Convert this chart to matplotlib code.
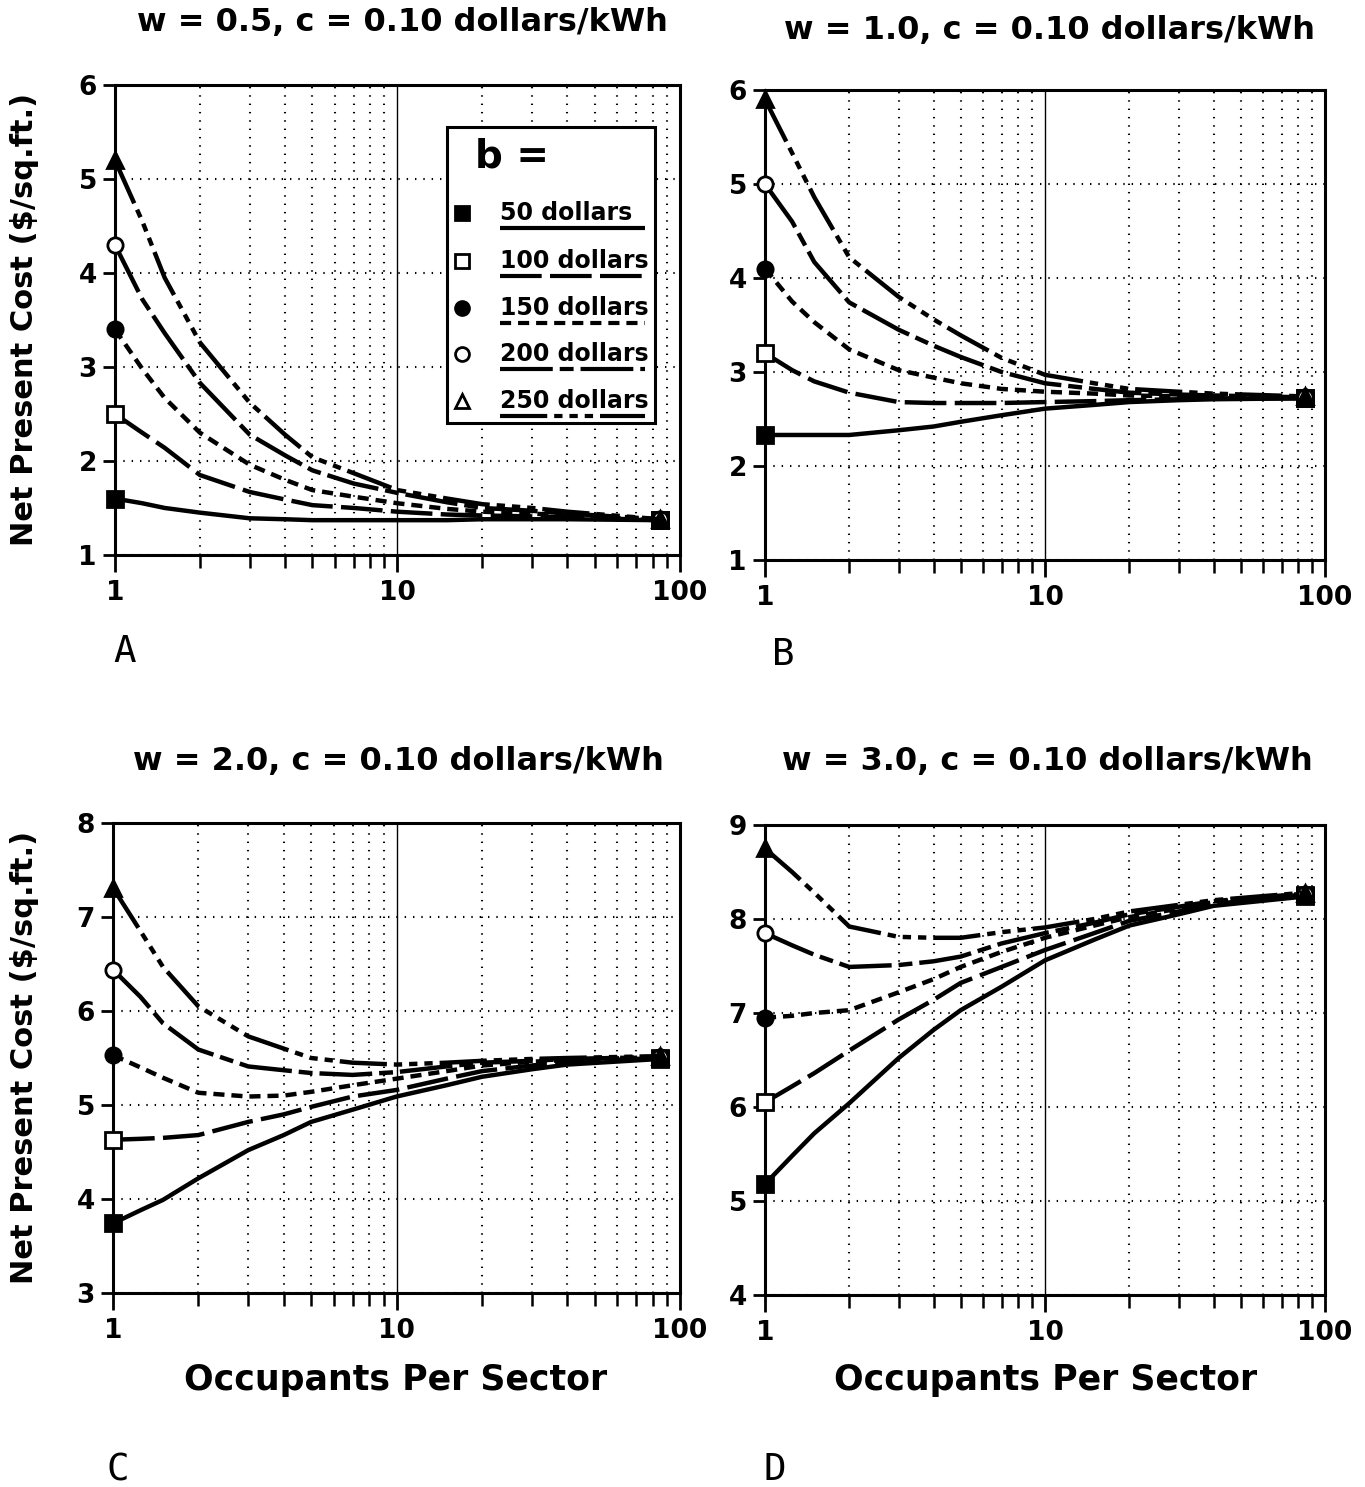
import matplotlib
matplotlib.use('Agg')
import matplotlib.pyplot as plt
from matplotlib.ticker import LogLocator, NullFormatter, FixedLocator, FixedFormatter
from matplotlib.lines import Line2D
from matplotlib.patches import Rectangle

plt.rcParams['lines.scale_dashes'] = False
plt.rcParams['font.family'] = ['DejaVu Sans']

# occupants per sector (x) where values were read
occupants = [1, 1.25, 1.5, 2, 3, 4, 5, 7, 10, 15, 20, 30, 40, 85]

b_labels = ['50 dollars', '100 dollars', '150 dollars', '200 dollars', '250 dollars']

# panel A: w = 0.5
cost_a_50 = [1.6, 1.55, 1.5, 1.45, 1.39, 1.38, 1.37, 1.37, 1.37, 1.37, 1.38, 1.38, 1.38, 1.37]
cost_a_100 = [2.5, 2.3, 2.14, 1.85, 1.67, 1.59, 1.53, 1.5, 1.46, 1.43, 1.42, 1.41, 1.4, 1.37]
cost_a_150 = [3.4, 2.98, 2.67, 2.3, 1.96, 1.8, 1.69, 1.62, 1.55, 1.49, 1.46, 1.44, 1.42, 1.37]
cost_a_200 = [4.3, 3.72, 3.36, 2.83, 2.28, 2.06, 1.9, 1.76, 1.66, 1.56, 1.5, 1.47, 1.44, 1.38]
cost_a_250 = [5.2, 4.55, 3.95, 3.26, 2.62, 2.28, 2.04, 1.87, 1.69, 1.6, 1.54, 1.5, 1.46, 1.38]

# panel B: w = 1.0
cost_b_50 = [2.33, 2.33, 2.33, 2.33, 2.38, 2.42, 2.47, 2.54, 2.61, 2.65, 2.68, 2.7, 2.71, 2.72]
cost_b_100 = [3.2, 3.02, 2.9, 2.78, 2.68, 2.67, 2.67, 2.67, 2.68, 2.69, 2.7, 2.71, 2.72, 2.72]
cost_b_150 = [4.1, 3.75, 3.53, 3.24, 3.02, 2.94, 2.88, 2.82, 2.79, 2.77, 2.75, 2.74, 2.74, 2.73]
cost_b_200 = [5.0, 4.6, 4.17, 3.74, 3.45, 3.28, 3.16, 3.0, 2.88, 2.82, 2.78, 2.76, 2.75, 2.73]
cost_b_250 = [5.9, 5.33, 4.86, 4.22, 3.8, 3.56, 3.39, 3.15, 2.97, 2.88, 2.82, 2.79, 2.77, 2.74]

# panel C: w = 2.0
cost_c_50 = [3.74, 3.88, 3.99, 4.22, 4.52, 4.68, 4.82, 4.95, 5.09, 5.21, 5.3, 5.38, 5.43, 5.49]
cost_c_100 = [4.63, 4.64, 4.65, 4.68, 4.82, 4.9, 4.98, 5.09, 5.16, 5.28, 5.36, 5.42, 5.46, 5.5]
cost_c_150 = [5.53, 5.4, 5.29, 5.13, 5.09, 5.1, 5.14, 5.21, 5.28, 5.36, 5.42, 5.46, 5.48, 5.51]
cost_c_200 = [6.44, 6.15, 5.87, 5.59, 5.41, 5.37, 5.34, 5.32, 5.35, 5.41, 5.45, 5.47, 5.49, 5.51]
cost_c_250 = [7.31, 6.85, 6.47, 6.05, 5.73, 5.6, 5.5, 5.45, 5.43, 5.45, 5.47, 5.49, 5.5, 5.52]

# panel D: w = 3.0
cost_d_50 = [5.18, 5.48, 5.72, 6.04, 6.52, 6.82, 7.03, 7.28, 7.56, 7.78, 7.93, 8.05, 8.14, 8.24]
cost_d_100 = [6.05, 6.22, 6.36, 6.6, 6.93, 7.14, 7.32, 7.49, 7.67, 7.85, 7.98, 8.08, 8.16, 8.25]
cost_d_150 = [6.95, 6.97, 7.0, 7.03, 7.22, 7.36, 7.49, 7.65, 7.8, 7.93, 8.02, 8.11, 8.18, 8.26]
cost_d_200 = [7.85, 7.72, 7.62, 7.49, 7.51, 7.55, 7.6, 7.74, 7.85, 7.96, 8.05, 8.13, 8.19, 8.27]
cost_d_250 = [8.75, 8.5, 8.28, 7.92, 7.81, 7.8, 7.8, 7.86, 7.91, 8.0, 8.08, 8.15, 8.2, 8.28]

panels = [
    ('w = 0.5, c = 0.10 dollars/kWh', [cost_a_50, cost_a_100, cost_a_150, cost_a_200, cost_a_250], (1, 6), 'A'),
    ('w = 1.0, c = 0.10 dollars/kWh', [cost_b_50, cost_b_100, cost_b_150, cost_b_200, cost_b_250], (1, 6), 'B'),
    ('w = 2.0, c = 0.10 dollars/kWh', [cost_c_50, cost_c_100, cost_c_150, cost_c_200, cost_c_250], (3, 8), 'C'),
    ('w = 3.0, c = 0.10 dollars/kWh', [cost_d_50, cost_d_100, cost_d_150, cost_d_200, cost_d_250], (4, 9), 'D'),
]

# line and marker styles for b = 50 .. 250
dash_styles = [
    (0, ()),
    (0, (30, 6)),
    (0, (8, 5)),
    (0, (38, 5, 10, 5)),
    (0, (34, 5, 6, 5, 6, 5, 6, 5)),
]
markers = ['s', 's', 'o', 'o', '^']
faces = ['black', 'white', 'black', 'white', 'black']
legend_faces = ['black', 'white', 'black', 'white', 'white']

fig = plt.figure(figsize=(13.65, 14.87), dpi=100)

axes_pos = [
    [0.0842, 0.6268, 0.4139, 0.3160],
    [0.5604, 0.6234, 0.4103, 0.3161],
    [0.0828, 0.1305, 0.4154, 0.3160],
    [0.5604, 0.1291, 0.4103, 0.3161],
]
title_pos = [(0.295, 0.9852), (0.769, 0.9798), (0.292, 0.4876), (0.767, 0.4876)]
letter_pos = [(0.0916, 0.5615), (0.5736, 0.5595), (0.0864, 0.0114), (0.5678, 0.0114)]

for i, (title, series, ylim, letter) in enumerate(panels):
    ax = fig.add_axes(axes_pos[i])
    for k, vals in enumerate(series):
        ax.plot(occupants, vals, color='black', lw=3.2, linestyle=dash_styles[k],
                marker=markers[k], markevery=[0, len(occupants) - 1], ms=11,
                mfc=faces[k], mec='black', mew=2, clip_on=False, zorder=3)
    ax.set_xscale('log')
    ax.set_xlim(1, 100)
    ax.set_ylim(*ylim)
    ax.set_yticks(range(ylim[0], ylim[1] + 1))
    ax.xaxis.set_major_locator(FixedLocator([1, 10, 100]))
    ax.xaxis.set_major_formatter(FixedFormatter(['1', '10', '100']))
    ax.xaxis.set_minor_locator(LogLocator(base=10, subs=range(2, 10)))
    ax.xaxis.set_minor_formatter(NullFormatter())
    ax.grid(which='major', axis='x', color='black', lw=1.0, ls='-')
    ax.grid(which='minor', axis='x', color='black', lw=1.5, ls=(0, (1, 5)))
    ax.grid(which='major', axis='y', color='black', lw=1.5, ls=(0, (1, 5)))
    for sp in ax.spines.values():
        sp.set_linewidth(2.2)
    ax.tick_params(axis='x', which='major', direction='out', length=12, width=2, pad=6, labelsize=19)
    ax.tick_params(axis='x', which='minor', direction='out', length=9, width=1.8)
    ax.tick_params(axis='y', which='major', direction='out', length=9, width=2, pad=4, labelsize=19)
    for lab in ax.get_xticklabels() + ax.get_yticklabels():
        lab.set_fontweight('bold')
    fig.text(title_pos[i][0], title_pos[i][1], title, ha='center', va='center',
             fontsize=23, fontweight='bold')
    fig.text(letter_pos[i][0], letter_pos[i][1], letter, ha='center', va='center',
             fontsize=27, family='DejaVu Sans Mono')

    if i == 0:
        # legend box drawn in axes coordinates
        ax.add_patch(Rectangle((0.588, 0.281), 0.368, 0.63, transform=ax.transAxes,
                               facecolor='white', edgecolor='black', lw=2.2, zorder=5))
        ax.text(0.637, 0.847, 'b =', transform=ax.transAxes, fontsize=28,
                fontweight='bold', va='center', ha='left', zorder=6)
        rows_y = [0.728, 0.626, 0.526, 0.428, 0.328]
        for k, lab in enumerate(b_labels):
            ax.plot([0.614], [rows_y[k]], transform=ax.transAxes, marker=markers[k],
                    ms=10, mfc=legend_faces[k], mec='black', mew=2, color='black',
                    zorder=6, clip_on=False)
            ax.text(0.681, rows_y[k], lab, transform=ax.transAxes, fontsize=17,
                    fontweight='bold', va='center', ha='left', zorder=6)
            ax.add_line(Line2D([0.681, 0.938], [rows_y[k] - 0.032, rows_y[k] - 0.032],
                               transform=ax.transAxes, color='black', lw=3,
                               linestyle=dash_styles[k], zorder=6))

# axis labels
fig.text(0.018, 0.785, 'Net Present Cost ($/sq.ft.)', rotation=90, ha='center', va='center',
         fontsize=22, fontweight='bold')
fig.text(0.018, 0.289, 'Net Present Cost ($/sq.ft.)', rotation=90, ha='center', va='center',
         fontsize=22, fontweight='bold')
fig.text(0.290, 0.072, 'Occupants Per Sector', ha='center', va='center',
         fontsize=25, fontweight='bold')
fig.text(0.766, 0.072, 'Occupants Per Sector', ha='center', va='center',
         fontsize=25, fontweight='bold')

fig.savefig('out.png', dpi=100, facecolor='white')
